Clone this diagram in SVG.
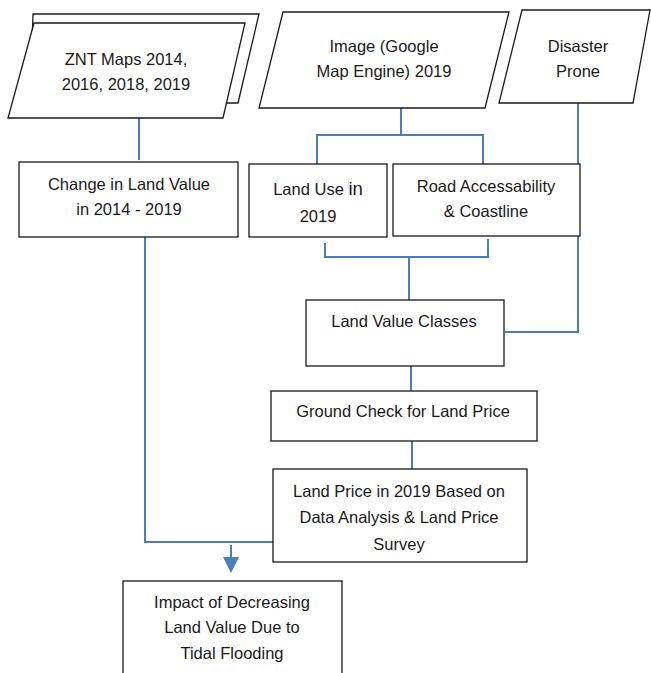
<svg xmlns="http://www.w3.org/2000/svg" width="651" height="673" viewBox="0 0 651 673">
<style>
.box{fill:#fff;stroke:#1a1a1a;stroke-width:1.3}
.t{font-family:"Liberation Sans",Arial,sans-serif;font-size:16.5px;fill:#1a1a1a;text-anchor:middle}
.c{fill:none;stroke:#4a7ebb;stroke-width:2}
</style>
<defs>
<marker id="ah" markerWidth="16" markerHeight="16" refX="8" refY="8" viewBox="0 0 16 16" markerUnits="userSpaceOnUse" orient="auto">
<path d="M0,0 L16,8 L0,16 Z" fill="#4a7ebb"/>
</marker>
</defs>
<rect width="651" height="673" fill="#fff"/>
<g id="connectors">
<path class="c" d="M139,118 V160"/>
<path class="c" d="M401,108 V135 M317,135 H483 M317,134 V164 M483,134 V164"/>
<path class="c" d="M325,243 V257 M488,239 V257 M324,257 H489 M409,257 V300"/>
<path class="c" d="M578,103 V332 H505"/>
<path class="c" d="M411,366 V391"/>
<path class="c" d="M412,441 V469"/>
<path class="c" d="M145,237 V542 H278"/>
<path class="c" d="M231,545 V565" marker-end="url(#ah)"/>
</g>
<g id="znt">
<polygon class="box" points="33,14 259,14 238,103 30,103"/>
<polygon class="box" points="34,23 245,23 223,118 8,118"/>
<text class="t" x="126" y="65">ZNT Maps 2014,</text>
<text class="t" x="126" y="90">2016, 2018, 2019</text>
</g>
<g id="image">
<polygon class="box" points="283,12 509,12 485,108 259,108"/>
<text class="t" x="384" y="52">Image (Google</text>
<text class="t" x="384" y="77">Map Engine) 2019</text>
</g>
<g id="disaster">
<polygon class="box" points="522,10 650,10 633,103 499,103"/>
<text class="t" x="578" y="52">Disaster</text>
<text class="t" x="578" y="77">Prone</text>
</g>
<g id="change">
<rect class="box" x="19" y="162" width="219" height="75"/>
<text class="t" x="129" y="190">Change in Land Value</text>
<text class="t" x="129" y="215">in 2014 - 2019</text>
</g>
<g id="landuse">
<rect class="box" x="249" y="164" width="138" height="73"/>
<text class="t" x="318" y="195">Land Use <tspan font-size="18.5">in</tspan></text>
<text class="t" x="318" y="222">2019</text>
</g>
<g id="road">
<rect class="box" x="393" y="164" width="187" height="72"/>
<text class="t" x="486" y="192">Road Accessability</text>
<text class="t" x="486" y="217">&amp; Coastline</text>
</g>
<g id="classes">
<rect class="box" x="306" y="300" width="198" height="66"/>
<text class="t" x="404" y="327">Land Value Classes</text>
</g>
<g id="ground">
<rect class="box" x="271" y="391" width="266" height="50"/>
<text class="t" x="403" y="417">Ground Check for Land Price</text>
</g>
<g id="price">
<rect class="box" x="273" y="469" width="254" height="93"/>
<text class="t" x="399" y="497">Land Price in 2019 Based on</text>
<text class="t" x="399" y="523">Data Analysis &amp; Land Price</text>
<text class="t" x="399" y="550">Survey</text>
</g>
<g id="impact">
<rect class="box" x="123" y="581" width="219" height="100"/>
<text class="t" x="232" y="608">Impact of Decreasing</text>
<text class="t" x="232" y="633">Land Value Due to</text>
<text class="t" x="232" y="659">Tidal Flooding</text>
</g>
</svg>
